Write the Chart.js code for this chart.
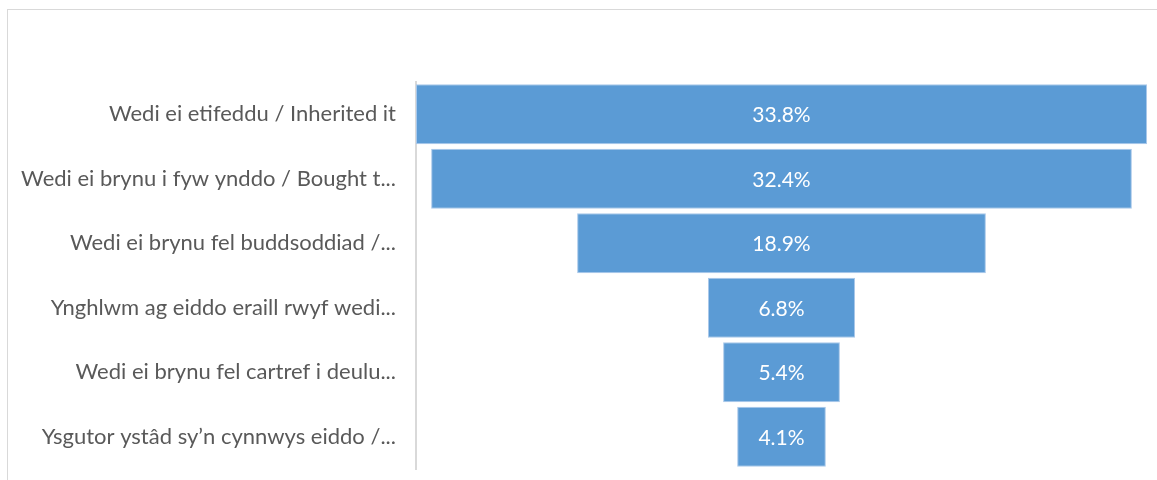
<!DOCTYPE html>
<html lang="en">
<head>
  <meta charset="UTF-8" />
  <title>Funnel</title>
  <script src="https://cdn.jsdelivr.net/npm/chart.js"></script>
  <style>
    html, body { margin: 0; padding: 0; background: #fff; overflow: hidden; }
    #frame { position: absolute; left: 7px; top: 9px; width: 1200px; height: 500px; border: 1px solid #d9d9d9; }
    #wrap { position: absolute; left: 0; top: 0; width: 1157px; height: 480px; }
  </style>
</head>
<body>
  <div id="frame"></div>
  <div id="wrap"><canvas id="funnel"></canvas></div>

  <script>
    const categories = [
      'Wedi ei etifeddu / Inherited it',
      'Wedi ei brynu i fyw ynddo / Bought t...',
      'Wedi ei brynu fel buddsoddiad /...',
      'Ynghlwm ag eiddo eraill rwyf wedi...',
      'Wedi ei brynu fel cartref i deulu...',
      'Ysgutor ystâd sy\u2019n cynnwys eiddo /...'
    ];
    const values = [33.8, 32.4, 18.9, 6.8, 5.4, 4.1];

    // funnel: each bar floats symmetrically around zero
    const spans = values.map(v => [-v / 2, v / 2]);
    const maxVal = Math.max(...values);

    const centerLabels = {
      id: 'centerLabels',
      afterDatasetsDraw(chart) {
        const ctx = chart.ctx;
        const meta = chart.getDatasetMeta(0);
        ctx.save();
        ctx.fillStyle = '#ffffff';
        ctx.font = '21px Lato';
        ctx.textAlign = 'center';
        ctx.textBaseline = 'middle';
        meta.data.forEach((bar, i) => {
          const p = bar.getProps(['x', 'y', 'base'], true);
          ctx.fillText(values[i].toFixed(1) + '%', (p.x + p.base) / 2, p.y + 1);
        });
        ctx.restore();
      }
    };

    new Chart(document.getElementById('funnel'), {
      type: 'bar',
      data: {
        labels: categories,
        datasets: [{
          data: spans,
          backgroundColor: '#5b9bd5',
          borderColor: '#a9c8ea',
          borderWidth: 1,
          borderSkipped: false,
          barPercentage: 0.93,
          categoryPercentage: 1
        }]
      },
      options: {
        indexAxis: 'y',
        responsive: true,
        maintainAspectRatio: false,
        animation: false,
        layout: { padding: { top: 82, bottom: 11, right: 10, left: 0 } },
        plugins: {
          legend: { display: false },
          tooltip: { enabled: false }
        },
        scales: {
          x: {
            display: false,
            min: -maxVal / 2,
            max: maxVal / 2
          },
          y: {
            afterFit: (scale) => {
              scale.width = 416;
              scale.paddingTop = 0;
              scale.paddingBottom = 0;
            },
            grid: { display: false, drawTicks: false },
            border: { display: true, color: '#d9d9d9', width: 2 },
            ticks: {
              padding: 20,
              color: '#595959',
              font: { family: 'Lato', size: 22 }
            }
          }
        }
      },
      plugins: [centerLabels]
    });
  </script>
</body>
</html>
